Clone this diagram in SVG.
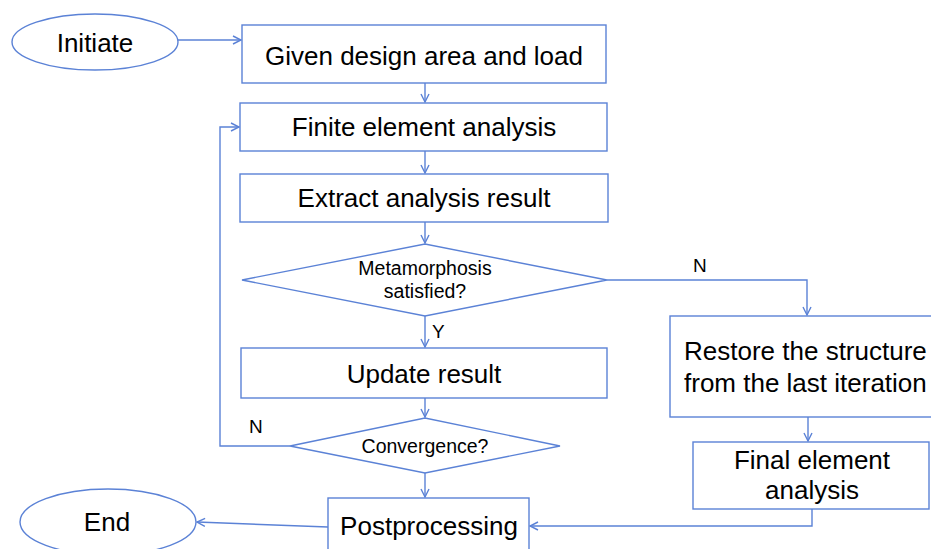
<svg xmlns="http://www.w3.org/2000/svg" width="931" height="549" viewBox="0 0 931 549">
<defs>
<style>
.s{fill:#fff;stroke:#5B82D6;stroke-width:1.4}
.c{fill:none;stroke:#5B82D6;stroke-width:1.4}
.t{font-family:"Liberation Sans",Arial,sans-serif;font-size:26px;fill:#000;text-anchor:middle}
.m{font-size:19.5px}
.l{font-family:"Liberation Sans",Arial,sans-serif;font-size:19px;fill:#000}
</style>
<marker id="a" markerWidth="12" markerHeight="12" refX="10" refY="6" orient="auto" markerUnits="userSpaceOnUse">
<path d="M2,2 L10,6 L2,10" fill="none" stroke="#5B82D6" stroke-width="1.4"/>
</marker>
</defs>
<rect width="931" height="549" fill="#fff"/>
<g id="connectors">
<path class="c" d="M178,40 L241,40" marker-end="url(#a)"/>
<path class="c" d="M425,83 L425,102" marker-end="url(#a)"/>
<path class="c" d="M425,151 L425,173" marker-end="url(#a)"/>
<path class="c" d="M425,222 L425,243" marker-end="url(#a)"/>
<path class="c" d="M425,316 L425,347" marker-end="url(#a)"/>
<path class="c" d="M425,398 L425,417" marker-end="url(#a)"/>
<path class="c" d="M425,473 L425,497" marker-end="url(#a)"/>
<path class="c" d="M290,446 L220,446 L220,127 L239,127" marker-end="url(#a)"/>
<path class="c" d="M607,280 L807,280 L807,315" marker-end="url(#a)"/>
<path class="c" d="M808,417 L808,441" marker-end="url(#a)"/>
<path class="c" d="M812,509 L812,526 L530,526" marker-end="url(#a)"/>
<path class="c" d="M328,527 L197,522" marker-end="url(#a)"/>
</g>
<g id="initiate"><ellipse class="s" cx="95" cy="42" rx="83" ry="28"/><text class="t" x="95" y="52">Initiate</text></g>
<g id="given"><rect class="s" x="242" y="25" width="364" height="58"/><text class="t" x="424" y="65">Given design area and load</text></g>
<g id="fea"><rect class="s" x="240" y="103" width="367" height="48"/><text class="t" x="424" y="136">Finite element analysis</text></g>
<g id="extract"><rect class="s" x="240" y="174" width="368" height="48"/><text class="t" x="424" y="207">Extract analysis result</text></g>
<g id="meta"><polygon class="s" points="242,280 425,244 607,280 425,316"/><text class="t m" x="425" y="275">Metamorphosis</text><text class="t m" x="425" y="298">satisfied?</text></g>
<g id="update"><rect class="s" x="241" y="348" width="366" height="50"/><text class="t" x="424" y="383">Update result</text></g>
<g id="conv"><polygon class="s" points="290,446 425,418 560,446 425,473"/><text class="t m" x="425" y="453">Convergence?</text></g>
<g id="post"><rect class="s" x="328" y="498" width="201" height="62"/><text class="t" x="429" y="535">Postprocessing</text></g>
<g id="end"><ellipse class="s" cx="108" cy="522" rx="88" ry="33"/><text class="t" x="107" y="531">End</text></g>
<g id="restore"><rect class="s" x="670" y="316" width="270" height="101"/><text class="t" x="684" y="360" style="text-anchor:start">Restore the structure</text><text class="t" x="684" y="392" style="text-anchor:start">from the last iteration</text></g>
<g id="final"><rect class="s" x="693" y="442" width="236" height="67"/><text class="t" x="812" y="469">Final element</text><text class="t" x="812" y="499">analysis</text></g>
<g id="labels">
<text class="l" x="432" y="338">Y</text>
<text class="l" x="249" y="433">N</text>
<text class="l" x="693" y="272">N</text>
</g>
</svg>
